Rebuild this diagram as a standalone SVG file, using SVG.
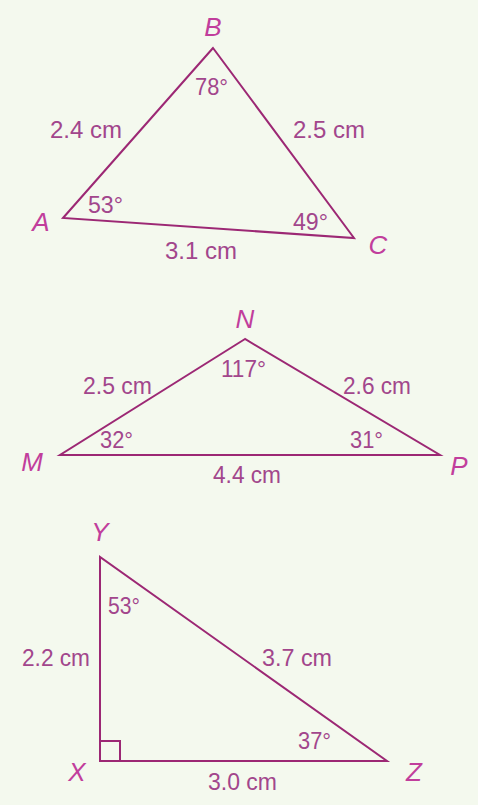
<svg xmlns="http://www.w3.org/2000/svg" width="478" height="805" viewBox="0 0 478 805">
<style>
.edge{fill:none;stroke:#9c2874;stroke-width:2;stroke-linejoin:miter}
.t{font-family:"Liberation Sans",Arial,sans-serif;fill:#a2468c;font-size:24px}
.a{font-family:"Liberation Sans",Arial,sans-serif;fill:#a2468c;font-size:23px}
.v{font-family:"Liberation Sans",Arial,sans-serif;fill:#c13e9c;font-size:26px;font-style:italic;text-anchor:middle}
</style>
<rect x="0" y="0" width="478" height="805" fill="#f4f9ee"/>
<g id="triangle-ABC">
<polygon class="edge" points="213,48 63,218 354,238"/>
<text class="v" x="213" y="36">B</text>
<text class="v" x="41" y="231">A</text>
<text class="v" x="378" y="254">C</text>
<text class="a" x="195" y="95" textLength="33" lengthAdjust="spacingAndGlyphs">78°</text>
<text class="a" x="88" y="213" textLength="35" lengthAdjust="spacingAndGlyphs">53°</text>
<text class="a" x="293" y="230" textLength="35" lengthAdjust="spacingAndGlyphs">49°</text>
<text class="t" x="50" y="138">2.4 cm</text>
<text class="t" x="293" y="138">2.5 cm</text>
<text class="t" x="165" y="259">3.1 cm</text>
</g>
<g id="triangle-MNP">
<polygon class="edge" points="245,339 60,455 440,455"/>
<text class="v" x="245" y="328">N</text>
<text class="v" x="32" y="471">M</text>
<text class="v" x="459" y="475">P</text>
<text class="a" x="221" y="377" textLength="45" lengthAdjust="spacingAndGlyphs">117°</text>
<text class="a" x="100" y="448" textLength="33" lengthAdjust="spacingAndGlyphs">32°</text>
<text class="a" x="350" y="448" textLength="33" lengthAdjust="spacingAndGlyphs">31°</text>
<text class="t" x="83" y="394" textLength="69" lengthAdjust="spacingAndGlyphs">2.5 cm</text>
<text class="t" x="343" y="394" textLength="68" lengthAdjust="spacingAndGlyphs">2.6 cm</text>
<text class="t" x="213" y="483" textLength="68" lengthAdjust="spacingAndGlyphs">4.4 cm</text>
</g>
<g id="triangle-XYZ">
<polygon class="edge" points="100,557 100,761 387,761"/>
<polyline class="edge" points="100,741 120,741 120,761"/>
<text class="v" x="100" y="541">Y</text>
<text class="v" x="77" y="781">X</text>
<text class="v" x="414" y="781">Z</text>
<text class="a" x="108" y="614" textLength="32" lengthAdjust="spacingAndGlyphs">53°</text>
<text class="a" x="298" y="749" textLength="33" lengthAdjust="spacingAndGlyphs">37°</text>
<text class="t" x="22" y="666" textLength="68" lengthAdjust="spacingAndGlyphs">2.2 cm</text>
<text class="t" x="262" y="666" textLength="70" lengthAdjust="spacingAndGlyphs">3.7 cm</text>
<text class="t" x="208" y="790" textLength="69" lengthAdjust="spacingAndGlyphs">3.0 cm</text>
</g>
</svg>
